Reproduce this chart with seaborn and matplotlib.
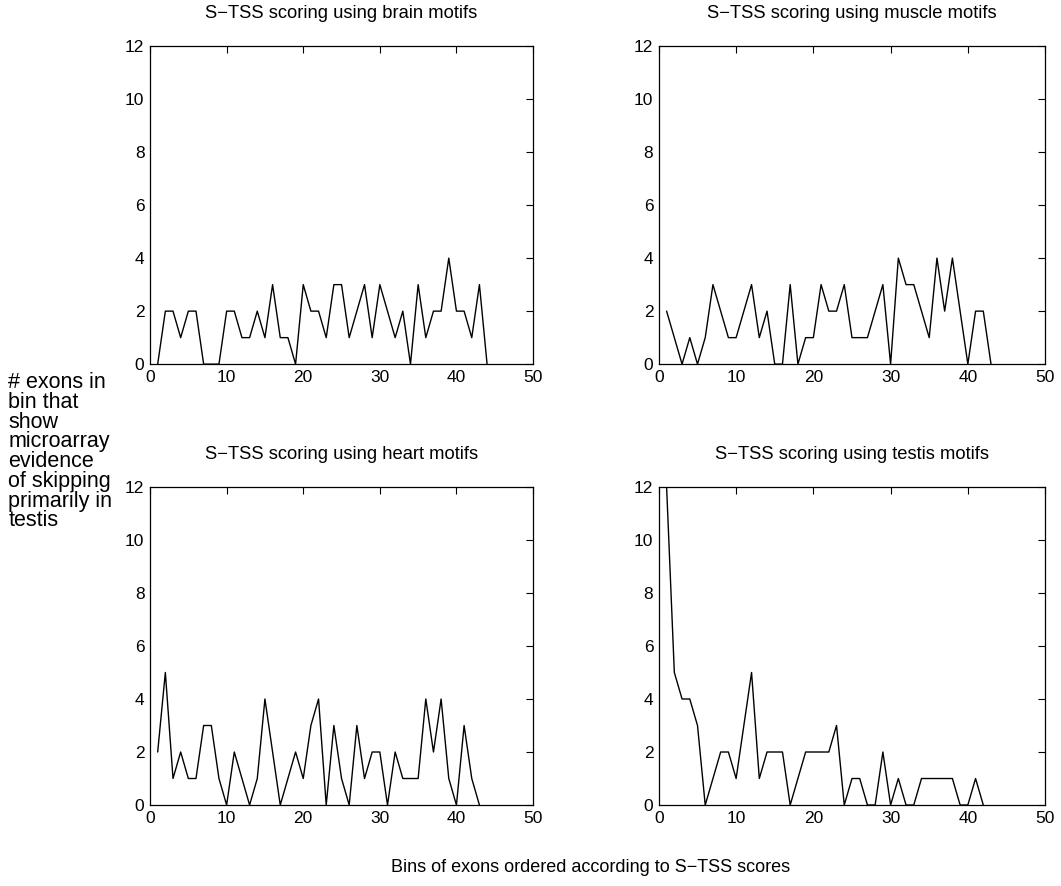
import numpy as np
import pandas as pd
import matplotlib
matplotlib.use('Agg')
import matplotlib.pyplot as plt
import seaborn as sns

# values, bins start at 1
brain = [0, 2, 2, 1, 2, 2, 0, 0, 0, 2, 2, 1, 1, 2, 1, 3, 1, 1, 0, 3, 2, 2,
         1, 3, 3, 1, 2, 3, 1, 3, 2, 1, 2, 0, 3, 1, 2, 2, 4, 2, 2, 1, 3, 0]
muscle = [2, 1, 0, 1, 0, 1, 3, 2, 1, 1, 2, 3, 1, 2, 0, 0, 3, 0, 1, 1, 3, 2,
          2, 3, 1, 1, 1, 2, 3, 0, 4, 3, 3, 2, 1, 4, 2, 4, 2, 0, 2, 2, 0]
heart = [2, 5, 1, 2, 1, 1, 3, 3, 1, 0, 2, 1, 0, 1, 4, 2, 0, 1, 2, 1, 3, 4,
         0, 3, 1, 0, 3, 1, 2, 2, 0, 2, 1, 1, 1, 4, 2, 4, 1, 0, 3, 1, 0]
testis = [12, 5, 4, 4, 3, 0, 1, 2, 2, 1, 3, 5, 1, 2, 2, 2, 0, 1, 2, 2, 2, 2,
          3, 0, 1, 1, 0, 0, 2, 0, 1, 0, 0, 1, 1, 1, 1, 1, 0, 0, 1, 0]

tissues = ['brain', 'muscle', 'heart', 'testis']
series = {'brain': brain, 'muscle': muscle, 'heart': heart, 'testis': testis}
xticks = [0, 10, 20, 30, 40, 50]
yticks = [0, 2, 4, 6, 8, 10, 12]

sns.set_style('white')
plt.rcParams['font.family'] = ['Liberation Sans', 'DejaVu Sans']
plt.rcParams['font.size'] = 12.5
plt.rcParams['text.color'] = 'black'

fig = plt.figure(figsize=(10.61, 8.86), dpi=100)

# axes boxes in figure fractions, [left, bottom, width, height]
boxes = {
    'brain': [0.1414, 0.589, 0.361, 0.359],
    'muscle': [0.621, 0.589, 0.364, 0.359],
    'heart': [0.1414, 0.0914, 0.361, 0.359],
    'testis': [0.621, 0.0914, 0.364, 0.359],
}

for tissue in tissues:
    vals = series[tissue]
    df = pd.DataFrame({'bin': np.arange(1, len(vals) + 1), 'count': vals})
    ax = fig.add_axes(boxes[tissue])
    sns.lineplot(data=df, x='bin', y='count', ax=ax, color='black', linewidth=1.0)
    ax.set_xlim(0, 50)
    ax.set_ylim(0, 12)
    ax.set_xticks(xticks)
    ax.set_yticks(yticks)
    ax.set_xlabel('')
    ax.set_ylabel('')
    ax.set_title(f'S\u2212TSS scoring using {tissue} motifs', fontsize=13.2, pad=20)
    ax.tick_params(direction='in', length=5, width=0.8, top=True, right=True,
                   labelsize=12.5, colors='black', pad=4)
    for sp in ax.spines.values():
        sp.set_visible(True)
        sp.set_color('black')
        sp.set_linewidth(0.9)

fig.text(0.008, 0.49,
         '# exons in\nbin that\nshow\nmicroarray\nevidence\nof skipping\nprimarily in\ntestis',
         ha='left', va='center', fontsize=15.5, linespacing=0.92)
fig.text(0.557, 0.021, 'Bins of exons ordered according to S\u2212TSS scores',
         ha='center', va='center', fontsize=12.95)

fig.savefig('out.png', dpi=100)
